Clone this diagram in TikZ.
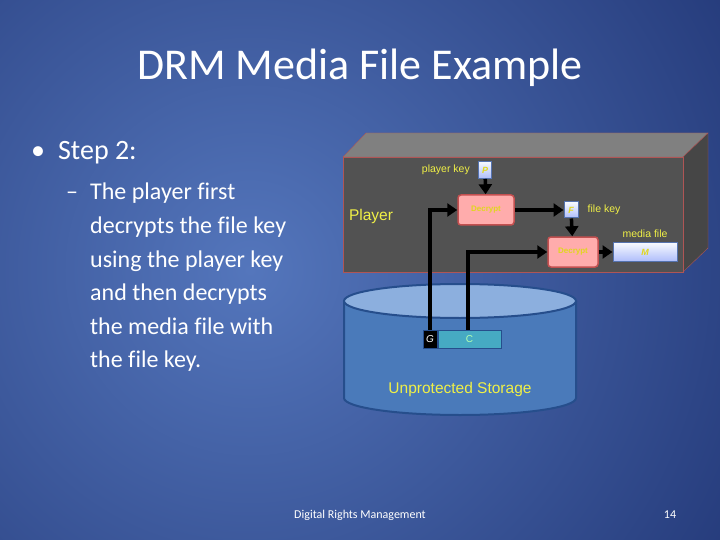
\documentclass[tikz,border=0pt]{standalone}
\usepackage{fontspec}
\setmainfont{Carlito}[Ligatures=CommonOff]
\newfontfamily\diagfont{Liberation Sans}
\usetikzlibrary{positioning,arrows.meta}

\definecolor{bgin}{RGB}{84,118,188}
\definecolor{bgout}{RGB}{22,40,102}
\definecolor{boxfront}{RGB}{82,82,82}
\definecolor{boxtop}{RGB}{128,128,128}
\definecolor{boxside}{RGB}{70,70,70}
\definecolor{boxedge}{RGB}{175,85,85}
\definecolor{labelyellow}{RGB}{240,240,70}
\definecolor{inkyellow}{RGB}{225,215,30}
\definecolor{decfill}{RGB}{255,172,172}
\definecolor{decedge}{RGB}{195,80,80}
\definecolor{keyfill}{RGB}{205,222,250}
\definecolor{keyedge}{RGB}{85,115,175}
\definecolor{drumbody}{RGB}{74,122,186}
\definecolor{drumtop}{RGB}{140,175,222}
\definecolor{drumedge}{RGB}{38,78,140}
\definecolor{cfill}{RGB}{70,170,195}

\begin{document}
\begin{tikzpicture}[x=1pt,y=-1pt,
    keybox/.style={draw=keyedge, line width=1pt, top color=white!85!keyfill, bottom color=keyfill!85!blue,
        inner sep=0pt, font=\diagfont\fontsize{9}{9}\selectfont\itshape\bfseries, text=inkyellow},
    decbox/.style={draw=decedge, line width=1.5pt, rounded corners=3pt, fill=decfill, inner sep=0pt,
        minimum height=30pt, font=\diagfont\fontsize{8}{8}\selectfont\bfseries, text=inkyellow},
    tag/.style={font=\diagfont\fontsize{10.5}{11}\selectfont, text=labelyellow, inner sep=0pt},
    flow/.style={line width=3.5pt, -{Triangle[length=10pt,width=13pt]}},
    slidetext/.style={text=white, inner sep=0pt}]

    % slide background
    \begin{scope}
        \clip (0,0) rectangle (720,540);
        \fill[bgout] (0,0) rectangle (720,540);
        \shade[inner color=bgin, outer color=bgout] (250,270) circle (740pt);
    \end{scope}
    \useasboundingbox (0,0) rectangle (720,540);

    % slide text
    \node[slidetext, font=\fontsize{44}{48}\selectfont] (title) at (360,68) {DRM Media File Example};
    \node[slidetext, anchor=west, font=\fontsize{28}{32}\selectfont] (step) at (31,153) {\textbullet\hspace{13pt}Step 2:};
    \node[slidetext, anchor=north west, align=left, font=\fontsize{24}{33.6}\selectfont] (expl) at (90,183)
        {\llap{--\hspace{12pt}}The player first\\decrypts the file key\\using the player key\\and then decrypts\\the media file with\\the file key.};

    % player box
    \draw[boxedge, fill=boxtop] (343,157) -- (366,133) -- (708,133) -- (683,157) -- cycle;
    \draw[boxedge, fill=boxside] (683,157) -- (708,133) -- (708,248) -- (683,272) -- cycle;
    \draw[boxedge, fill=boxfront] (343,157) rectangle (683,272);

    % storage drum
    \draw[drumedge, line width=2pt, fill=drumbody] (344,301) -- (344,398) arc(180:0:116 and 17) -- (576,301);
    \draw[drumedge, line width=2pt, fill=drumtop] (460,301) ellipse (116 and 17);

    \node[tag, font=\diagfont\fontsize{15.5}{16}\selectfont] (player) at (371,216) {Player};
    \node[tag, font=\diagfont\fontsize{15.5}{16}\selectfont] (storage) at (460,389) {Unprotected Storage};

    \node[keybox, minimum width=13pt, minimum height=17pt] (pkey) at (485,170) {P};
    \node[decbox, minimum width=56pt] (dec1) at (486,210) {Decrypt};
    \node[keybox, minimum width=14pt, minimum height=16pt] (fkey) at (571,210) {F};
    \node[decbox, minimum width=50pt] (dec2) at (573,252) {Decrypt};
    \node[keybox, minimum width=64pt, minimum height=19pt] (media) at (645,252) {M};

    \node[tag, left=8pt of pkey] (pkeylabel) {player key};
    \node[tag, right=9pt of fkey] (fkeylabel) {file key};
    \node[tag, above=4pt of media] (medialabel) {media file};

    \node[draw=drumedge, line width=1pt, fill=black, text=white, minimum width=14pt, minimum height=18pt,
        inner sep=0pt, font=\diagfont\fontsize{10}{10}\selectfont\itshape] (gbox) at (430,339) {G};
    \node[draw=drumedge, line width=1pt, fill=cfill, text=white!70!green, minimum width=63pt, minimum height=18pt,
        inner sep=0pt, font=\diagfont\fontsize{10}{10}\selectfont, right=0pt of gbox] (cbox) {C};

    \draw[flow] (pkey) -- (dec1);
    \draw[flow] (dec1) -- (fkey);
    \draw[flow] (fkey) -- (dec2);
    \draw[flow] (dec2) -- (media);
    \draw[flow] (gbox.north) |- (dec1.west);
    \draw[flow] ([xshift=-1.5pt]cbox.north) |- (dec2.west);

    % footer
    \node[slidetext, font=\fontsize{12}{13}\selectfont] (footer) at (360,515) {Digital Rights Management};
    \node[slidetext, font=\fontsize{12}{13}\selectfont] (pageno) at (670,515) {14};
\end{tikzpicture}
\end{document}
